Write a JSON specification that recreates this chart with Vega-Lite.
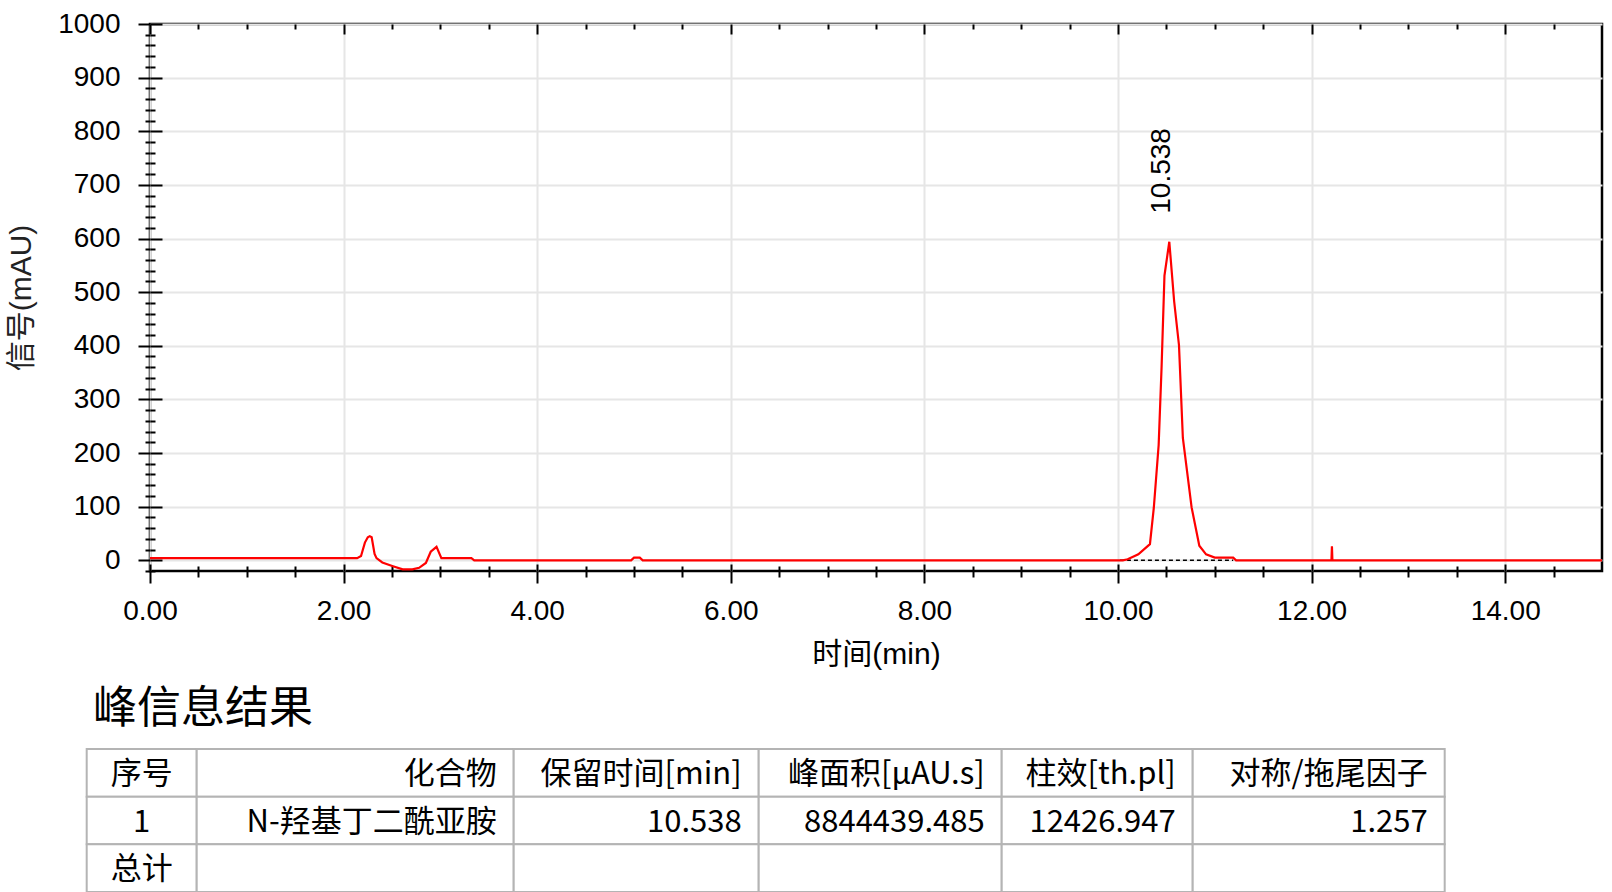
{
  "$schema": "https://vega.github.io/schema/vega-lite/v6.json",
  "background": "white",
  "padding": {"left": 5, "top": 8, "right": 5, "bottom": 0},
  "datasets": {
    "trace": [
      {"time": 0.0, "signal": 4}, {"time": 2.14, "signal": 4}, {"time": 2.18, "signal": 8}, {"time": 2.22, "signal": 33},
      {"time": 2.25, "signal": 43}, {"time": 2.27, "signal": 45}, {"time": 2.29, "signal": 43}, {"time": 2.32, "signal": 12},
      {"time": 2.34, "signal": 4}, {"time": 2.40, "signal": -4}, {"time": 2.51, "signal": -11}, {"time": 2.61, "signal": -17},
      {"time": 2.71, "signal": -17}, {"time": 2.78, "signal": -14}, {"time": 2.85, "signal": -5}, {"time": 2.90, "signal": 16},
      {"time": 2.96, "signal": 25}, {"time": 3.01, "signal": 4}, {"time": 3.32, "signal": 4}, {"time": 3.35, "signal": 0},
      {"time": 4.97, "signal": 0}, {"time": 5.00, "signal": 5}, {"time": 5.06, "signal": 5}, {"time": 5.09, "signal": 0},
      {"time": 10.05, "signal": 0}, {"time": 10.10, "signal": 2}, {"time": 10.21, "signal": 11}, {"time": 10.33, "signal": 30},
      {"time": 10.37, "signal": 98}, {"time": 10.42, "signal": 215}, {"time": 10.45, "signal": 359}, {"time": 10.48, "signal": 531},
      {"time": 10.53, "signal": 594}, {"time": 10.58, "signal": 483}, {"time": 10.63, "signal": 401}, {"time": 10.67, "signal": 228},
      {"time": 10.76, "signal": 99}, {"time": 10.84, "signal": 27}, {"time": 10.91, "signal": 11}, {"time": 11.00, "signal": 5},
      {"time": 11.19, "signal": 5}, {"time": 11.22, "signal": 0}, {"time": 12.205, "signal": 0}, {"time": 12.21, "signal": 26},
      {"time": 12.215, "signal": 0}, {"time": 15.0, "signal": 0}
    ],
    "baseline": [{"time": 10.02, "signal": 0}, {"time": 11.19, "signal": 0}],
    "peaks": [{"rt": 10.538, "height": 594, "label": "10.538"}],
    "table": [
      {"row": 0, "col": "c1", "text": "序号"}, {"row": 1, "col": "c1", "text": "1"}, {"row": 2, "col": "c1", "text": "总计"},
      {"row": 0, "col": "c2", "text": "化合物"}, {"row": 1, "col": "c2", "text": "N-羟基丁二酰亚胺"}, {"row": 2, "col": "c2", "text": ""},
      {"row": 0, "col": "c3", "text": "保留时间[min]"}, {"row": 1, "col": "c3", "text": "10.538"}, {"row": 2, "col": "c3", "text": ""},
      {"row": 0, "col": "c4", "text": "峰面积[μAU.s]"}, {"row": 1, "col": "c4", "text": "8844439.485"}, {"row": 2, "col": "c4", "text": ""},
      {"row": 0, "col": "c5", "text": "柱效[th.pl]"}, {"row": 1, "col": "c5", "text": "12426.947"}, {"row": 2, "col": "c5", "text": ""},
      {"row": 0, "col": "c6", "text": "对称/拖尾因子"}, {"row": 1, "col": "c6", "text": "1.257"}, {"row": 2, "col": "c6", "text": ""}
    ]
  },
  "config": {"view": {"stroke": null}, "concat": {"spacing": 0}},
  "spacing": 17,
  "vconcat": [
    {
      "width": 1452,
      "height": 547,
      "view": {"stroke": "black", "strokeWidth": 2.5},
      "resolve": {"axis": {"x": "independent", "y": "independent"}},
      "layer": [
        {
          "data": {"name": "baseline"},
          "mark": {"type": "line", "color": "black", "strokeDash": [4, 3], "strokeWidth": 1.5},
          "encoding": {
            "x": {"field": "time", "type": "quantitative", "scale": {"domain": [0, 15], "nice": false, "zero": false},
              "axis": {"orient": "bottom", "values": [0,0.5,1,1.5,2,2.5,3,3.5,4,4.5,5,5.5,6,6.5,7,7.5,8,8.5,9,9.5,10,10.5,11,11.5,12,12.5,13,13.5,14,14.5],
                "labels": false, "title": null, "grid": false, "domain": false, "tickColor": "black", "tickWidth": 2,
                "tickSize": {"condition": {"test": "datum.value % 2 === 0", "value": -7}, "value": -5}}},
            "y": {"field": "signal", "type": "quantitative", "scale": {"domain": [-20, 1000], "nice": false, "zero": false},
              "axis": {"orient": "left", "values": [-20,0,20,40,60,80,100,120,140,160,180,200,220,240,260,280,300,320,340,360,380,400,420,440,460,480,500,520,540,560,580,600,620,640,660,680,700,720,740,760,780,800,820,840,860,880,900,920,940,960,980,1000],
                "labels": false, "title": null, "grid": false, "domain": false, "tickColor": "black", "tickWidth": 2,
                "tickSize": {"condition": {"test": "datum.value % 100 === 0", "value": -12}, "value": -5}}}
          }
        },
        {
          "data": {"name": "trace"},
          "mark": {"type": "line", "color": "#ff0000", "strokeWidth": 2.2},
          "encoding": {
            "x": {"field": "time", "type": "quantitative", "scale": {"domain": [0, 15], "nice": false, "zero": false},
              "axis": {"orient": "bottom", "values": [0,0.5,1,1.5,2,2.5,3,3.5,4,4.5,5,5.5,6,6.5,7,7.5,8,8.5,9,9.5,10,10.5,11,11.5,12,12.5,13,13.5,14,14.5],
                "labelExpr": "datum.value % 2 === 0 ? format(datum.value, '.2f') : ''",
                "labelFont": "Liberation Sans", "labelFontSize": 28, "labelColor": "black", "labelPadding": 14,
                "labelOverlap": false, "labelFlush": false, "labelBound": false,
                "domain": false, "tickColor": "black", "tickWidth": 2,
                "tickSize": {"condition": {"test": "datum.value % 2 === 0", "value": 12}, "value": 6},
                "grid": true, "gridColor": "#e6e6e6", "gridWidth": 2,
                "gridOpacity": {"condition": {"test": "datum.value % 2 === 0", "value": 1}, "value": 0},
                "title": "时间(min)", "titleFont": "Liberation Sans, Noto Sans CJK SC", "titleFontSize": 30,
                "titleFontWeight": "normal", "titleColor": "black", "titlePadding": 14}},
            "y": {"field": "signal", "type": "quantitative", "scale": {"domain": [-20, 1000], "nice": false, "zero": false},
              "axis": {"orient": "left", "values": [-20,0,20,40,60,80,100,120,140,160,180,200,220,240,260,280,300,320,340,360,380,400,420,440,460,480,500,520,540,560,580,600,620,640,660,680,700,720,740,760,780,800,820,840,860,880,900,920,940,960,980,1000],
                "format": "d",
                "labelExpr": "datum.value % 100 === 0 ? datum.label : ''",
                "labelFont": "Liberation Sans", "labelFontSize": 28, "labelColor": "black", "labelPadding": 18,
                "labelOverlap": false, "labelFlush": false, "labelBound": false,
                "domain": false, "tickColor": "black", "tickWidth": 2,
                "tickSize": {"condition": {"test": "datum.value % 100 === 0", "value": 12}, "value": 5},
                "grid": true, "gridColor": "#e6e6e6", "gridWidth": 2,
                "gridOpacity": {"condition": {"test": "datum.value % 100 === 0", "value": 1}, "value": 0},
                "title": "信号(mAU)", "titleFont": "Liberation Sans, Noto Sans CJK SC", "titleFontSize": 30,
                "titleFontWeight": "normal", "titleColor": "#222222", "titlePadding": 21}}
          }
        },
        {
          "data": {"name": "peaks"},
          "mark": {"type": "text", "angle": 270, "align": "left", "baseline": "alphabetic", "dx": 28, "fontSize": 28, "font": "Liberation Sans", "color": "black"},
          "encoding": {
            "x": {"field": "rt", "type": "quantitative", "scale": {"domain": [0, 15], "nice": false, "zero": false},
              "axis": {"orient": "top", "values": [0,0.5,1,1.5,2,2.5,3,3.5,4,4.5,5,5.5,6,6.5,7,7.5,8,8.5,9,9.5,10,10.5,11,11.5,12,12.5,13,13.5,14,14.5],
                "labels": false, "title": null, "grid": false, "domain": false, "tickColor": "black", "tickWidth": 2,
                "tickSize": {"condition": {"test": "datum.value % 2 === 0", "value": -10}, "value": -5}}},
            "y": {"field": "height", "type": "quantitative", "scale": {"domain": [-20, 1000], "nice": false, "zero": false}, "axis": null},
            "text": {"field": "label", "type": "nominal"}
          }
        }
      ]
    },
    {
      "title": {"text": "峰信息结果", "anchor": "start", "frame": "group", "fontSize": 44, "font": "Noto Sans CJK SC", "fontWeight": "normal", "color": "black", "offset": 16, "dx": -57},
      "spacing": 0,
      "bounds": "flush",
      "hconcat": [
        {
          "width": 110, "height": 143,
          "data": {"name": "table"},
          "transform": [{"filter": "datum.col === 'c1'"}],
          "encoding": {
            "x": {"field": "col", "type": "nominal", "axis": null, "scale": {"paddingInner": 0, "paddingOuter": 0}},
            "y": {"field": "row", "type": "ordinal", "axis": null, "scale": {"paddingInner": 0, "paddingOuter": 0}}
          },
          "layer": [
            {"mark": {"type": "rect", "fill": "white", "stroke": "#b4b4b4", "strokeWidth": 2, "xOffset": -63.3, "x2Offset": -63.3}},
            {"mark": {"type": "text", "font": "Noto Sans CJK SC", "fontSize": 31, "align": "center", "baseline": "middle", "xOffset": -63.3, "dy": 2, "color": "black"},
             "encoding": {"text": {"field": "text", "type": "nominal"}}}
          ]
        },
        {
          "width": 317, "height": 143,
          "data": {"name": "table"},
          "transform": [{"filter": "datum.col === 'c2'"}],
          "encoding": {
            "x": {"field": "col", "type": "nominal", "axis": null, "scale": {"paddingInner": 0, "paddingOuter": 0}},
            "y": {"field": "row", "type": "ordinal", "axis": null, "scale": {"paddingInner": 0, "paddingOuter": 0}}
          },
          "layer": [
            {"mark": {"type": "rect", "fill": "white", "stroke": "#b4b4b4", "strokeWidth": 2, "xOffset": -63.3, "x2Offset": -63.3}},
            {"mark": {"type": "text", "font": "Noto Sans CJK SC", "fontSize": 31, "align": "right", "baseline": "middle", "xOffset": -63.3, "dx": -17, "dy": 2, "color": "black"},
             "encoding": {"x": {"field": "col", "type": "nominal", "bandPosition": 1, "axis": null}, "text": {"field": "text", "type": "nominal"}}}
          ]
        },
        {
          "width": 245, "height": 143,
          "data": {"name": "table"},
          "transform": [{"filter": "datum.col === 'c3'"}],
          "encoding": {
            "x": {"field": "col", "type": "nominal", "axis": null, "scale": {"paddingInner": 0, "paddingOuter": 0}},
            "y": {"field": "row", "type": "ordinal", "axis": null, "scale": {"paddingInner": 0, "paddingOuter": 0}}
          },
          "layer": [
            {"mark": {"type": "rect", "fill": "white", "stroke": "#b4b4b4", "strokeWidth": 2, "xOffset": -63.3, "x2Offset": -63.3}},
            {"mark": {"type": "text", "font": "Noto Sans CJK SC", "fontSize": 31, "align": "right", "baseline": "middle", "xOffset": -63.3, "dx": -17, "dy": 2, "color": "black"},
             "encoding": {"x": {"field": "col", "type": "nominal", "bandPosition": 1, "axis": null}, "text": {"field": "text", "type": "nominal"}}}
          ]
        },
        {
          "width": 243, "height": 143,
          "data": {"name": "table"},
          "transform": [{"filter": "datum.col === 'c4'"}],
          "encoding": {
            "x": {"field": "col", "type": "nominal", "axis": null, "scale": {"paddingInner": 0, "paddingOuter": 0}},
            "y": {"field": "row", "type": "ordinal", "axis": null, "scale": {"paddingInner": 0, "paddingOuter": 0}}
          },
          "layer": [
            {"mark": {"type": "rect", "fill": "white", "stroke": "#b4b4b4", "strokeWidth": 2, "xOffset": -63.3, "x2Offset": -63.3}},
            {"mark": {"type": "text", "font": "Noto Sans CJK SC", "fontSize": 31, "align": "right", "baseline": "middle", "xOffset": -63.3, "dx": -17, "dy": 2, "color": "black"},
             "encoding": {"x": {"field": "col", "type": "nominal", "bandPosition": 1, "axis": null}, "text": {"field": "text", "type": "nominal"}}}
          ]
        },
        {
          "width": 191, "height": 143,
          "data": {"name": "table"},
          "transform": [{"filter": "datum.col === 'c5'"}],
          "encoding": {
            "x": {"field": "col", "type": "nominal", "axis": null, "scale": {"paddingInner": 0, "paddingOuter": 0}},
            "y": {"field": "row", "type": "ordinal", "axis": null, "scale": {"paddingInner": 0, "paddingOuter": 0}}
          },
          "layer": [
            {"mark": {"type": "rect", "fill": "white", "stroke": "#b4b4b4", "strokeWidth": 2, "xOffset": -63.3, "x2Offset": -63.3}},
            {"mark": {"type": "text", "font": "Noto Sans CJK SC", "fontSize": 31, "align": "right", "baseline": "middle", "xOffset": -63.3, "dx": -17, "dy": 2, "color": "black"},
             "encoding": {"x": {"field": "col", "type": "nominal", "bandPosition": 1, "axis": null}, "text": {"field": "text", "type": "nominal"}}}
          ]
        },
        {
          "width": 252, "height": 143,
          "data": {"name": "table"},
          "transform": [{"filter": "datum.col === 'c6'"}],
          "encoding": {
            "x": {"field": "col", "type": "nominal", "axis": null, "scale": {"paddingInner": 0, "paddingOuter": 0}},
            "y": {"field": "row", "type": "ordinal", "axis": null, "scale": {"paddingInner": 0, "paddingOuter": 0}}
          },
          "layer": [
            {"mark": {"type": "rect", "fill": "white", "stroke": "#b4b4b4", "strokeWidth": 2, "xOffset": -63.3, "x2Offset": -63.3}},
            {"mark": {"type": "text", "font": "Noto Sans CJK SC", "fontSize": 31, "align": "right", "baseline": "middle", "xOffset": -63.3, "dx": -17, "dy": 2, "color": "black"},
             "encoding": {"x": {"field": "col", "type": "nominal", "bandPosition": 1, "axis": null}, "text": {"field": "text", "type": "nominal"}}}
          ]
        }
      ]
    }
  ]
}
